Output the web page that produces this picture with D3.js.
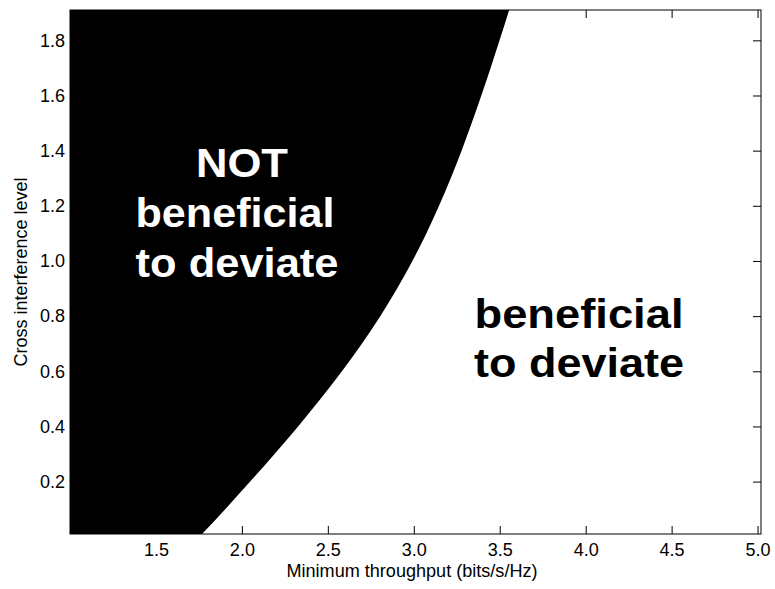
<!DOCTYPE html>
<html>
<head>
<meta charset="utf-8">
<script src="https://cdn.jsdelivr.net/npm/d3@7"></script>
<style>
  html, body { margin: 0; padding: 0; background: #fff; }
  svg { display: block; }
  text { font-family: "Liberation Sans", Arial, Helvetica, sans-serif; }
</style>
</head>
<body>
<svg id="chart" width="775" height="589"></svg>
<script>
// Cross interference level (y) sampled along the decision boundary
const interferenceLevels = [0.01, 0.1, 0.2, 0.3, 0.4, 0.5, 0.6, 0.7, 0.8, 0.9, 1.0,
  1.1, 1.2, 1.3, 1.4, 1.5, 1.6, 1.7, 1.8, 1.91];
// Minimum throughput (bits/s/Hz) at which deviating becomes beneficial
const boundaryThroughput = [1.768, 1.903, 2.048, 2.190, 2.327, 2.458, 2.582, 2.698, 2.805, 2.903, 2.992,
  3.073, 3.147, 3.215, 3.278, 3.337, 3.393, 3.447, 3.499, 3.555];

const xTicks = [1.5, 2.0, 2.5, 3.0, 3.5, 4.0, 4.5, 5.0];
const yTicks = [0.2, 0.4, 0.6, 0.8, 1.0, 1.2, 1.4, 1.6, 1.8];
const xDomain = [1.0, 5.02];
const yDomain = [0.01, 1.91];

const regionLabels = [
  { lines: ["NOT", "beneficial", "to deviate"], fill: "#fff" },
  { lines: ["beneficial", "to deviate"], fill: "#000" }
];

const svg = d3.select("#chart");
const plot = { left: 70, right: 761, top: 10, bottom: 534 };

const x = d3.scaleLinear().domain(xDomain).range([plot.left, plot.right]);
const y = d3.scaleLinear().domain(yDomain).range([plot.bottom, plot.top]);

svg.append("defs").append("clipPath").attr("id", "plot-clip")
  .append("rect")
  .attr("x", plot.left).attr("y", plot.top)
  .attr("width", plot.right - plot.left).attr("height", plot.bottom - plot.top);

const boundary = interferenceLevels.map((lvl, i) => ({ lvl, thr: boundaryThroughput[i] }));

// Region where deviating is not beneficial: left of the boundary
const area = d3.area()
  .y(d => y(d.lvl))
  .x0(x(xDomain[0]))
  .x1(d => x(d.thr))
  .curve(d3.curveMonotoneY);

svg.append("path")
  .datum(boundary)
  .attr("clip-path", "url(#plot-clip)")
  .attr("fill", "#000")
  .attr("d", area);

// Axes with inward ticks on all four sides
const tickLen = 8;
const fmt = d3.format(".1f");

const axBottom = svg.append("g")
  .attr("transform", `translate(0,${plot.bottom})`)
  .call(d3.axisBottom(x).tickValues(xTicks).tickFormat(fmt).tickSizeInner(-tickLen).tickSizeOuter(0).tickPadding(9));
const axTop = svg.append("g")
  .attr("transform", `translate(0,${plot.top})`)
  .call(d3.axisTop(x).tickValues(xTicks).tickFormat("").tickSizeInner(-tickLen).tickSizeOuter(0));
const axLeft = svg.append("g")
  .attr("transform", `translate(${plot.left},0)`)
  .call(d3.axisLeft(y).tickValues(yTicks).tickFormat(fmt).tickSizeInner(-tickLen).tickSizeOuter(0).tickPadding(5));
const axRight = svg.append("g")
  .attr("transform", `translate(${plot.right},0)`)
  .call(d3.axisRight(y).tickValues(yTicks).tickFormat("").tickSizeInner(-tickLen).tickSizeOuter(0));

[axBottom, axTop, axLeft, axRight].forEach(g => {
  g.select(".domain").remove();
  g.selectAll(".tick line").attr("stroke", "#000").attr("stroke-width", 1);
  g.selectAll(".tick text").attr("font-size", 18).attr("fill", "#000")
    .style("font-family", "'Liberation Sans', Arial, sans-serif");
});

// Frame
svg.append("rect")
  .attr("x", plot.left).attr("y", plot.top)
  .attr("width", plot.right - plot.left).attr("height", plot.bottom - plot.top)
  .attr("fill", "none").attr("stroke", "#000").attr("stroke-width", 1);

// Axis titles
svg.append("text")
  .attr("x", 412)
  .attr("y", 577)
  .attr("text-anchor", "middle")
  .attr("font-size", 18)
  .attr("textLength", 251)
  .attr("lengthAdjust", "spacingAndGlyphs")
  .text("Minimum throughput (bits/s/Hz)");

svg.append("text")
  .attr("transform", `translate(27,${(plot.top + plot.bottom) / 2}) rotate(-90)`)
  .attr("text-anchor", "middle")
  .attr("font-size", 18)
  .text("Cross interference level");

// Region annotations
const leftPos = [{ cx: 242, by: 177, w: 92 }, { cx: 235, by: 227, w: 199 }, { cx: 237, by: 277, w: 203 }];
const rightPos = [{ cx: 579, by: 328, w: 209 }, { cx: 579, by: 377, w: 210 }];

[leftPos, rightPos].forEach((pos, k) => {
  const lab = regionLabels[k];
  lab.lines.forEach((line, i) => {
    svg.append("text")
      .attr("x", pos[i].cx)
      .attr("y", pos[i].by)
      .attr("text-anchor", "middle")
      .attr("font-size", 40)
      .attr("font-weight", "bold")
      .attr("fill", lab.fill)
      .attr("textLength", pos[i].w)
      .attr("lengthAdjust", "spacingAndGlyphs")
      .text(line);
  });
});
</script>
</body>
</html>
